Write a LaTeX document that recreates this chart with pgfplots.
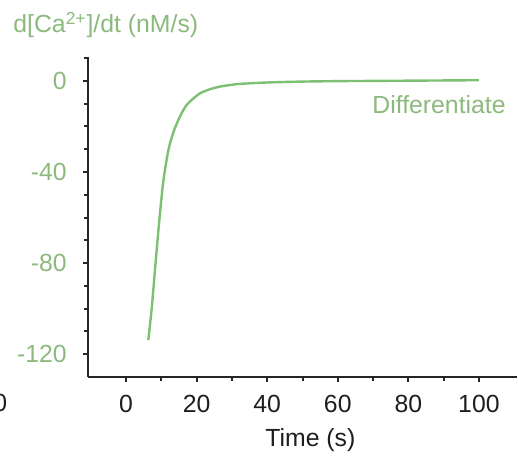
\documentclass[border=0pt]{standalone}
\usepackage{pgfplots}
\pgfplotsset{compat=1.18}
\usepackage{fontspec}
\setmainfont{Liberation Sans}
\definecolor{curve}{RGB}{125,192,115}
\definecolor{lab}{RGB}{140,185,125}
\definecolor{dark}{RGB}{30,30,30}
\newcommand\lf{\fontsize{12.4}{14}\selectfont}
\begin{document}
\begin{tikzpicture}
\useasboundingbox (0pt,0pt) rectangle (259pt,229pt);
\begin{axis}[at={(44pt,40.5pt)}, anchor=south west, scale only axis,
 width=214.5pt, height=160pt,
 xmin=-10.8, xmax=110.8, ymin=-130, ymax=10.5,
 axis lines*=left, axis line style={line width=1.4pt, black!85},
 xtick={0,20,40,60,80,100}, xticklabels={0,20,40,60,80,100},
 minor xtick={10,30,50,70,90},
 ytick={-120,-80,-40,0}, yticklabels={-120,-80,-40,0},
 minor ytick={-110,-100,-90,-70,-60,-50,-30,-20,-10,10},
 tick align=outside, major tick length=2.6pt, minor tick length=2pt,
 tick style={black!85, line width=1pt},
 tick label style={font=\lf},
 xticklabel style={text=dark, yshift=-3pt},
 yticklabel style={text=lab, xshift=-4.5pt},
 clip=false]
\addplot[curve, line width=1.2pt, smooth, tension=0.5] coordinates {
(6.3,-113.8) (7.3,-99.2) (8.5,-77.2) (9.6,-58.2) (10.6,-43.5) (12.0,-30.3)
(13.2,-23.5) (14.4,-18.6) (15.8,-14) (17.2,-10.5) (19,-7.8) (21.0,-5.4)
(23.5,-3.8) (26.6,-2.5) (30,-1.7) (32.3,-1.3) (40,-0.7) (50,-0.3) (60,-0.1)
(70,0) (80,0.1) (90,0.2) (100,0.3)};
\end{axis}
\node[anchor=base west, text=lab, font=\lf, inner sep=0] at (6.5pt,212.5pt) {d[Ca\textsuperscript{2+}]/dt (nM/s)};
\node[anchor=base west, text=lab, font=\lf, inner sep=0] at (186pt,172pt) {Differentiate};
\node[anchor=base west, text=dark, font=\lf, inner sep=0] at (132.5pt,5.5pt) {Time (s)};
\node[anchor=base east, text=dark, font=\lf, inner sep=0] at (3.75pt,23pt) {100};
\end{tikzpicture}
\end{document}
